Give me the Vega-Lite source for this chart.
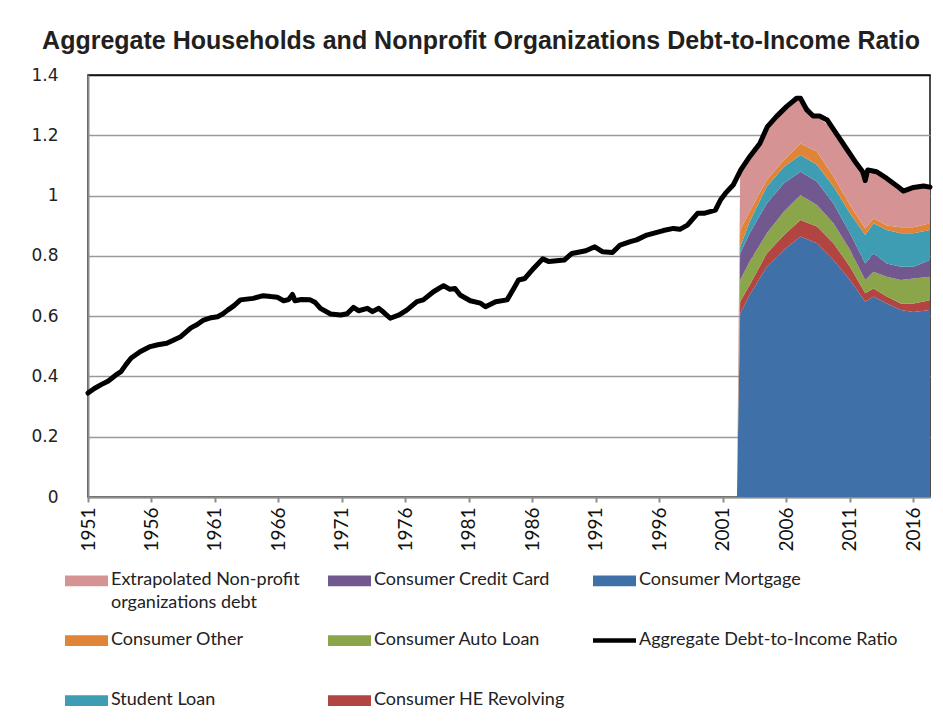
{
  "$schema": "https://vega.github.io/schema/vega-lite/v6.json",
  "width": 842,
  "height": 422,
  "autosize": {"type": "none"},
  "padding": {"left": 88, "top": 75, "right": 13, "bottom": 224},
  "background": "white",
  "title": {
    "text": "Aggregate Households and Nonprofit Organizations Debt-to-Income Ratio",
    "font": "Liberation Sans",
    "fontSize": 25,
    "fontWeight": "bold",
    "color": "#231f20",
    "anchor": "middle",
    "frame": "group",
    "dx": -28,
    "offset": 12
  },
  "config": {
    "view": {"stroke": "#111111", "strokeWidth": 1.5},
    "legend": {"padding": 0}
  },
  "datasets": {
    "ratio": [
      {"year": 1951.0, "value": 0.345}, {"year": 1951.5, "value": 0.36}, {"year": 1952.0, "value": 0.372},
      {"year": 1952.6, "value": 0.385}, {"year": 1953.2, "value": 0.405}, {"year": 1953.6, "value": 0.416},
      {"year": 1954.0, "value": 0.44}, {"year": 1954.4, "value": 0.461}, {"year": 1955.1, "value": 0.482},
      {"year": 1955.9, "value": 0.499}, {"year": 1956.5, "value": 0.505}, {"year": 1957.2, "value": 0.51},
      {"year": 1957.8, "value": 0.522}, {"year": 1958.3, "value": 0.532}, {"year": 1959.1, "value": 0.561},
      {"year": 1959.6, "value": 0.572}, {"year": 1960.1, "value": 0.587}, {"year": 1960.7, "value": 0.595},
      {"year": 1961.2, "value": 0.598}, {"year": 1961.6, "value": 0.607}, {"year": 1962.0, "value": 0.62},
      {"year": 1962.5, "value": 0.635}, {"year": 1963.0, "value": 0.654}, {"year": 1964.0, "value": 0.659},
      {"year": 1964.8, "value": 0.668}, {"year": 1965.4, "value": 0.665}, {"year": 1965.9, "value": 0.663},
      {"year": 1966.4, "value": 0.651}, {"year": 1966.8, "value": 0.655}, {"year": 1967.1, "value": 0.672},
      {"year": 1967.3, "value": 0.651}, {"year": 1967.8, "value": 0.655}, {"year": 1968.5, "value": 0.654},
      {"year": 1968.9, "value": 0.645}, {"year": 1969.3, "value": 0.626}, {"year": 1970.1, "value": 0.607},
      {"year": 1970.9, "value": 0.604}, {"year": 1971.4, "value": 0.608}, {"year": 1971.9, "value": 0.629},
      {"year": 1972.3, "value": 0.618}, {"year": 1973.0, "value": 0.626}, {"year": 1973.4, "value": 0.615},
      {"year": 1973.9, "value": 0.626}, {"year": 1974.3, "value": 0.612}, {"year": 1974.8, "value": 0.593},
      {"year": 1975.5, "value": 0.604}, {"year": 1976.1, "value": 0.62}, {"year": 1976.9, "value": 0.648},
      {"year": 1977.4, "value": 0.654}, {"year": 1978.2, "value": 0.681}, {"year": 1979.0, "value": 0.701},
      {"year": 1979.5, "value": 0.689}, {"year": 1979.9, "value": 0.692}, {"year": 1980.3, "value": 0.67},
      {"year": 1981.1, "value": 0.651}, {"year": 1981.9, "value": 0.643}, {"year": 1982.3, "value": 0.631},
      {"year": 1983.1, "value": 0.648}, {"year": 1984.0, "value": 0.654}, {"year": 1984.5, "value": 0.69},
      {"year": 1984.9, "value": 0.72}, {"year": 1985.4, "value": 0.725}, {"year": 1986.1, "value": 0.759},
      {"year": 1986.8, "value": 0.79}, {"year": 1987.3, "value": 0.781}, {"year": 1988.5, "value": 0.786},
      {"year": 1989.1, "value": 0.808}, {"year": 1990.2, "value": 0.817}, {"year": 1990.9, "value": 0.83},
      {"year": 1991.5, "value": 0.814}, {"year": 1992.3, "value": 0.811}, {"year": 1992.9, "value": 0.836},
      {"year": 1993.7, "value": 0.847}, {"year": 1994.2, "value": 0.853}, {"year": 1995.0, "value": 0.869},
      {"year": 1996.3, "value": 0.884}, {"year": 1997.1, "value": 0.891}, {"year": 1997.6, "value": 0.888},
      {"year": 1998.2, "value": 0.902}, {"year": 1999.0, "value": 0.941}, {"year": 1999.5, "value": 0.941},
      {"year": 2000.4, "value": 0.952}, {"year": 2000.8, "value": 0.985}, {"year": 2001.2, "value": 1.008},
      {"year": 2001.8, "value": 1.035}, {"year": 2002.4, "value": 1.085}, {"year": 2003.1, "value": 1.129},
      {"year": 2003.9, "value": 1.173}, {"year": 2004.5, "value": 1.229}, {"year": 2005.2, "value": 1.262},
      {"year": 2006.0, "value": 1.295}, {"year": 2006.8, "value": 1.323}, {"year": 2007.1, "value": 1.323},
      {"year": 2007.6, "value": 1.284}, {"year": 2008.1, "value": 1.264}, {"year": 2008.6, "value": 1.264},
      {"year": 2009.2, "value": 1.251}, {"year": 2009.9, "value": 1.207}, {"year": 2010.7, "value": 1.157},
      {"year": 2011.5, "value": 1.107}, {"year": 2012.0, "value": 1.079}, {"year": 2012.2, "value": 1.05},
      {"year": 2012.4, "value": 1.085}, {"year": 2013.1, "value": 1.079}, {"year": 2013.9, "value": 1.057},
      {"year": 2014.7, "value": 1.032}, {"year": 2015.2, "value": 1.015}, {"year": 2016.0, "value": 1.027},
      {"year": 2016.8, "value": 1.032}, {"year": 2017.3, "value": 1.028}
    ],
    "components": [
      {"year": 2002.1, "series": "Consumer Mortgage", "value": 0},
      {"year": 2002.1, "series": "Consumer HE Revolving", "value": 0},
      {"year": 2002.1, "series": "Consumer Auto Loan", "value": 0},
      {"year": 2002.1, "series": "Consumer Credit Card", "value": 0},
      {"year": 2002.1, "series": "Student Loan", "value": 0},
      {"year": 2002.1, "series": "Consumer Other", "value": 0},
      {"year": 2002.1, "series": "Extrapolated Non-profit organizations debt", "value": 0},

      {"year": 2002.35, "series": "Consumer Mortgage", "value": 0.609},
      {"year": 2002.35, "series": "Consumer HE Revolving", "value": 0.039},
      {"year": 2002.35, "series": "Consumer Auto Loan", "value": 0.072},
      {"year": 2002.35, "series": "Consumer Credit Card", "value": 0.088},
      {"year": 2002.35, "series": "Student Loan", "value": 0.022},
      {"year": 2002.35, "series": "Consumer Other", "value": 0.056},
      {"year": 2002.35, "series": "Extrapolated Non-profit organizations debt", "value": 0.184},

      {"year": 2003.1, "series": "Consumer Mortgage", "value": 0.67},
      {"year": 2003.1, "series": "Consumer HE Revolving", "value": 0.033},
      {"year": 2003.1, "series": "Consumer Auto Loan", "value": 0.078},
      {"year": 2003.1, "series": "Consumer Credit Card", "value": 0.094},
      {"year": 2003.1, "series": "Student Loan", "value": 0.038},
      {"year": 2003.1, "series": "Consumer Other", "value": 0.034},
      {"year": 2003.1, "series": "Extrapolated Non-profit organizations debt", "value": 0.182},

      {"year": 2004.45, "series": "Consumer Mortgage", "value": 0.764},
      {"year": 2004.45, "series": "Consumer HE Revolving", "value": 0.044},
      {"year": 2004.45, "series": "Consumer Auto Loan", "value": 0.067},
      {"year": 2004.45, "series": "Consumer Credit Card", "value": 0.099},
      {"year": 2004.45, "series": "Student Loan", "value": 0.056},
      {"year": 2004.45, "series": "Consumer Other", "value": 0.022},
      {"year": 2004.45, "series": "Extrapolated Non-profit organizations debt", "value": 0.177},

      {"year": 2005.8, "series": "Consumer Mortgage", "value": 0.82},
      {"year": 2005.8, "series": "Consumer HE Revolving", "value": 0.049},
      {"year": 2005.8, "series": "Consumer Auto Loan", "value": 0.078},
      {"year": 2005.8, "series": "Consumer Credit Card", "value": 0.094},
      {"year": 2005.8, "series": "Student Loan", "value": 0.055},
      {"year": 2005.8, "series": "Consumer Other", "value": 0.022},
      {"year": 2005.8, "series": "Extrapolated Non-profit organizations debt", "value": 0.165},

      {"year": 2007.1, "series": "Consumer Mortgage", "value": 0.864},
      {"year": 2007.1, "series": "Consumer HE Revolving", "value": 0.055},
      {"year": 2007.1, "series": "Consumer Auto Loan", "value": 0.083},
      {"year": 2007.1, "series": "Consumer Credit Card", "value": 0.077},
      {"year": 2007.1, "series": "Student Loan", "value": 0.056},
      {"year": 2007.1, "series": "Consumer Other", "value": 0.038},
      {"year": 2007.1, "series": "Extrapolated Non-profit organizations debt", "value": 0.15},

      {"year": 2008.4, "series": "Consumer Mortgage", "value": 0.842},
      {"year": 2008.4, "series": "Consumer HE Revolving", "value": 0.055},
      {"year": 2008.4, "series": "Consumer Auto Loan", "value": 0.072},
      {"year": 2008.4, "series": "Consumer Credit Card", "value": 0.077},
      {"year": 2008.4, "series": "Student Loan", "value": 0.056},
      {"year": 2008.4, "series": "Consumer Other", "value": 0.044},
      {"year": 2008.4, "series": "Extrapolated Non-profit organizations debt", "value": 0.116},

      {"year": 2009.7, "series": "Consumer Mortgage", "value": 0.786},
      {"year": 2009.7, "series": "Consumer HE Revolving", "value": 0.056},
      {"year": 2009.7, "series": "Consumer Auto Loan", "value": 0.066},
      {"year": 2009.7, "series": "Consumer Credit Card", "value": 0.066},
      {"year": 2009.7, "series": "Student Loan", "value": 0.056},
      {"year": 2009.7, "series": "Consumer Other", "value": 0.033},
      {"year": 2009.7, "series": "Extrapolated Non-profit organizations debt", "value": 0.159},

      {"year": 2011.0, "series": "Consumer Mortgage", "value": 0.72},
      {"year": 2011.0, "series": "Consumer HE Revolving", "value": 0.044},
      {"year": 2011.0, "series": "Consumer Auto Loan", "value": 0.056},
      {"year": 2011.0, "series": "Consumer Credit Card", "value": 0.055},
      {"year": 2011.0, "series": "Student Loan", "value": 0.066},
      {"year": 2011.0, "series": "Consumer Other", "value": 0.028},
      {"year": 2011.0, "series": "Extrapolated Non-profit organizations debt", "value": 0.171},

      {"year": 2012.2, "series": "Consumer Mortgage", "value": 0.648},
      {"year": 2012.2, "series": "Consumer HE Revolving", "value": 0.028},
      {"year": 2012.2, "series": "Consumer Auto Loan", "value": 0.044},
      {"year": 2012.2, "series": "Consumer Credit Card", "value": 0.055},
      {"year": 2012.2, "series": "Student Loan", "value": 0.094},
      {"year": 2012.2, "series": "Consumer Other", "value": 0.022},
      {"year": 2012.2, "series": "Extrapolated Non-profit organizations debt", "value": 0.163},

      {"year": 2012.85, "series": "Consumer Mortgage", "value": 0.665},
      {"year": 2012.85, "series": "Consumer HE Revolving", "value": 0.027},
      {"year": 2012.85, "series": "Consumer Auto Loan", "value": 0.055},
      {"year": 2012.85, "series": "Consumer Credit Card", "value": 0.061},
      {"year": 2012.85, "series": "Student Loan", "value": 0.1},
      {"year": 2012.85, "series": "Consumer Other", "value": 0.017},
      {"year": 2012.85, "series": "Extrapolated Non-profit organizations debt", "value": 0.162},

      {"year": 2013.9, "series": "Consumer Mortgage", "value": 0.642},
      {"year": 2013.9, "series": "Consumer HE Revolving", "value": 0.023},
      {"year": 2013.9, "series": "Consumer Auto Loan", "value": 0.066},
      {"year": 2013.9, "series": "Consumer Credit Card", "value": 0.044},
      {"year": 2013.9, "series": "Student Loan", "value": 0.111},
      {"year": 2013.9, "series": "Consumer Other", "value": 0.015},
      {"year": 2013.9, "series": "Extrapolated Non-profit organizations debt", "value": 0.162},

      {"year": 2015.0, "series": "Consumer Mortgage", "value": 0.62},
      {"year": 2015.0, "series": "Consumer HE Revolving", "value": 0.022},
      {"year": 2015.0, "series": "Consumer Auto Loan", "value": 0.078},
      {"year": 2015.0, "series": "Consumer Credit Card", "value": 0.044},
      {"year": 2015.0, "series": "Student Loan", "value": 0.111},
      {"year": 2015.0, "series": "Consumer Other", "value": 0.02},
      {"year": 2015.0, "series": "Extrapolated Non-profit organizations debt", "value": 0.129},

      {"year": 2016.0, "series": "Consumer Mortgage", "value": 0.614},
      {"year": 2016.0, "series": "Consumer HE Revolving", "value": 0.028},
      {"year": 2016.0, "series": "Consumer Auto Loan", "value": 0.083},
      {"year": 2016.0, "series": "Consumer Credit Card", "value": 0.039},
      {"year": 2016.0, "series": "Student Loan", "value": 0.111},
      {"year": 2016.0, "series": "Consumer Other", "value": 0.02},
      {"year": 2016.0, "series": "Extrapolated Non-profit organizations debt", "value": 0.132},

      {"year": 2017.3, "series": "Consumer Mortgage", "value": 0.62},
      {"year": 2017.3, "series": "Consumer HE Revolving", "value": 0.033},
      {"year": 2017.3, "series": "Consumer Auto Loan", "value": 0.078},
      {"year": 2017.3, "series": "Consumer Credit Card", "value": 0.055},
      {"year": 2017.3, "series": "Student Loan", "value": 0.1},
      {"year": 2017.3, "series": "Consumer Other", "value": 0.022},
      {"year": 2017.3, "series": "Extrapolated Non-profit organizations debt", "value": 0.124}
    ]
  },
  "layer": [
    {
      "data": {"name": "components"},
      "transform": [
        {"calculate": "indexof(['Consumer Mortgage', 'Consumer HE Revolving', 'Consumer Auto Loan', 'Consumer Credit Card', 'Student Loan', 'Consumer Other', 'Extrapolated Non-profit organizations debt'], datum.series)", "as": "stack_rank"}
      ],
      "mark": {"type": "area", "interpolate": "linear"},
      "encoding": {
        "x": {
          "field": "year", "type": "quantitative",
          "scale": {"domain": [1951, 2017.3], "nice": false, "zero": false},
          "axis": {
            "title": null,
            "values": [1951, 1956, 1961, 1966, 1971, 1976, 1981, 1986, 1991, 1996, 2001, 2006, 2011, 2016],
            "format": "d",
            "labelAngle": -90,
            "labelFont": "Lato",
            "labelFontSize": 19,
            "labelColor": "#111111",
            "labelPadding": 5,
            "labelOverlap": false,
            "labelFlush": false,
            "domainColor": "#8c8c8c",
            "domainWidth": 2,
            "tickColor": "#8c8c8c",
            "tickWidth": 2,
            "tickSize": 5,
            "grid": false
          }
        },
        "y": {
          "field": "value", "type": "quantitative", "stack": "zero",
          "scale": {"domain": [0, 1.4], "nice": false},
          "axis": {
            "title": null,
            "values": [0, 0.2, 0.4, 0.6, 0.8, 1, 1.2, 1.4],
            "format": "~g",
            "labelFont": "DejaVu Sans",
            "labelFontSize": 17,
            "labelColor": "#222222",
            "labelPadding": 30,
            "ticks": false,
            "domainColor": "#8c8c8c",
            "domainWidth": 2,
            "grid": true,
            "gridColor": {"condition": {"test": "datum.value >= 1.39", "value": "#111111"}, "value": "#9a9a9a"},
            "gridWidth": 1.5
          }
        },
        "order": {"field": "stack_rank", "type": "quantitative", "sort": "ascending"},
        "color": {
          "field": "series", "type": "nominal",
          "scale": {
            "domain": ["Extrapolated Non-profit organizations debt", "Consumer Other", "Student Loan", "Consumer Credit Card", "Consumer Auto Loan", "Consumer HE Revolving", "Consumer Mortgage", "Aggregate Debt-to-Income Ratio"],
            "range": ["#d59393", "#e08538", "#3e9db3", "#71588f", "#8aa54a", "#b24441", "#3f70a8", "#000000"]
          },
          "legend": {
            "orient": "none", "legendX": -23, "legendY": 484,
            "title": null, "columns": 3, "columnPadding": 28, "rowPadding": 7, "gridAlign": "each",
            "symbolType": "M-1,-0.25H1V0.25H-1Z",
            "symbolSize": 1849,
            "symbolStrokeWidth": 0,
            "labelFont": "Lato", "labelFontSize": 18, "labelColor": "#222222", "labelLimit": 320, "labelOffset": 3,
            "labelBaseline": "top",
            "labelExpr": "datum.label == 'Extrapolated Non-profit organizations debt' ? ['Extrapolated Non-profit', 'organizations debt'] : [datum.label, '']",
            "encode": {
              "labels": {"update": {"dy": {"value": -10}, "lineHeight": {"value": 23}}},
              "symbols": {"update": {"shape": {"signal": "datum.value === 'Aggregate Debt-to-Income Ratio' ? 'M-1,-0.11H1V0.11H-1Z' : 'M-1,-0.25H1V0.25H-1Z'"}}}
            }
          }
        }
      }
    },
    {
      "data": {"name": "ratio"},
      "mark": {"type": "line", "strokeWidth": 5, "strokeJoin": "round", "strokeCap": "round"},
      "encoding": {
        "x": {"field": "year", "type": "quantitative"},
        "y": {"field": "value", "type": "quantitative"},
        "color": {"datum": "Aggregate Debt-to-Income Ratio"}
      }
    }
  ]
}
